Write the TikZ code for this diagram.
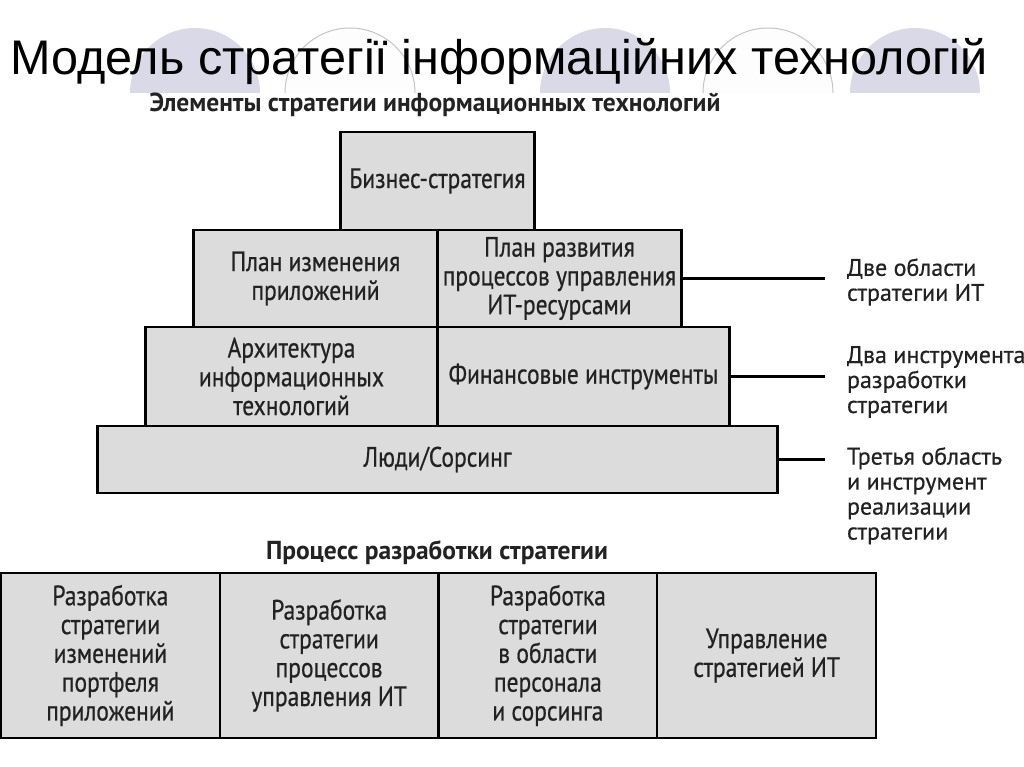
\documentclass[tikz,border=0pt]{standalone}
\usepackage{fontspec}
\setmainfont{PT Sans}[FakeBold=0.5]
\newfontfamily\titlefont{Liberation Sans}
\newfontfamily\narrowfont{PT Sans}[FakeStretch=0.84, FakeBold=0.6]
\newfontfamily\headfont{PT Sans}[FakeStretch=0.98]
\usetikzlibrary{positioning}
\definecolor{boxgray}{HTML}{DCDCDC}
\definecolor{inkgray}{HTML}{222222}
\definecolor{archblue}{HTML}{D9D9E8}
\definecolor{archline}{HTML}{C4C4CE}

\begin{document}
\begin{tikzpicture}[
    x=1pt, y=-1pt,
    tier/.style={rectangle, draw=black, fill=boxgray, line width=2.2pt, outer sep=0pt, inner sep=2pt, align=center, text=inkgray, font=\narrowfont\fontsize{28}{28.8}\selectfont},
    procbox/.style={tier, minimum width=218.75pt, minimum height=165pt},
    heading/.style={font=\headfont\bfseries\fontsize{26}{28}\selectfont, text=inkgray},
    note/.style={anchor=west, align=left, inner sep=0pt, outer xsep=22pt, text=inkgray, font=\fontsize{24}{25}\selectfont},
    link/.style={line width=2.2pt, draw=black}
]
    \useasboundingbox (0,0) rectangle (1024,767);
    \fill[white] (0,0) rectangle (1024,767);

    % slide decoration
    \foreach \cx in {195,605,915}
        \fill[archblue] (\cx+65,93) arc[start angle=0, end angle=180, radius=65pt] -- cycle;
    \foreach \cx in {350,768}
        \filldraw[fill=white!94!archblue, draw=archline, line width=1pt] (\cx+65,93) arc[start angle=0, end angle=180, radius=65pt];

    % Titles
    \node[anchor=base west, inner sep=0pt, font=\titlefont\fontsize{48.6}{52}\selectfont] (title) at (10,75) {Модель стратегії інформаційних технологій};
    \node[heading] (elements) at (435,105) {Элементы стратегии информационных технологий};

    % Pyramid
    \node[tier, minimum width=194pt, minimum height=98pt] (business) at (437.5,181) {Бизнес-стратегия};
    \node[tier, minimum width=244pt, minimum height=97pt, below left=0pt and 0pt of business.south] (appplan) {План изменения\\приложений};
    \node[tier, minimum width=244pt, minimum height=97pt, right=0pt of appplan] (resplan) {План развития\\процессов управления\\ИТ-ресурсами};
    \node[tier, minimum width=292pt, minimum height=99pt, below left=0pt and 0pt of appplan.south east] (itarch) {Архитектура\\информационных\\технологий};
    \node[tier, minimum width=292pt, minimum height=99pt, right=0pt of itarch] (finance) {Финансовые инструменты};
    \node[tier, minimum width=680pt, minimum height=67pt, below=0pt of itarch.south east] (people) {Люди/Сорсинг};

    % Labels
    \node[note] (areas) at (825,282) {Две области\\стратегии ИТ};
    \node[note] (tools) at (825,382) {Два инструмента\\разработки\\стратегии};
    \node[note, anchor=north west] (third) at (825,447) {Третья область\\и инструмент\\реализации\\стратегии};

    % Paths
    \draw[link] (resplan.east) -- (resplan.east -| areas.west);
    \draw[link] (finance.east) -- (finance.east -| tools.west);
    \draw[link] (people.east) -- (people.east -| third.west);

    % Process
    \node[heading] (process) at (437,553) {Процесс разработки стратегии};
    \node[procbox] (portfolio) at (110.4,655.5) {Разработка\\стратегии\\изменений\\портфеля\\приложений};
    \node[procbox, right=0pt of portfolio] (processes) {Разработка\\стратегии\\процессов\\управления ИТ};
    \node[procbox, right=0pt of processes] (staff) {Разработка\\стратегии\\в области\\персонала\\и сорсинга};
    \node[procbox, right=0pt of staff] (managing) {Управление\\стратегией ИТ};
\end{tikzpicture}
\end{document}
